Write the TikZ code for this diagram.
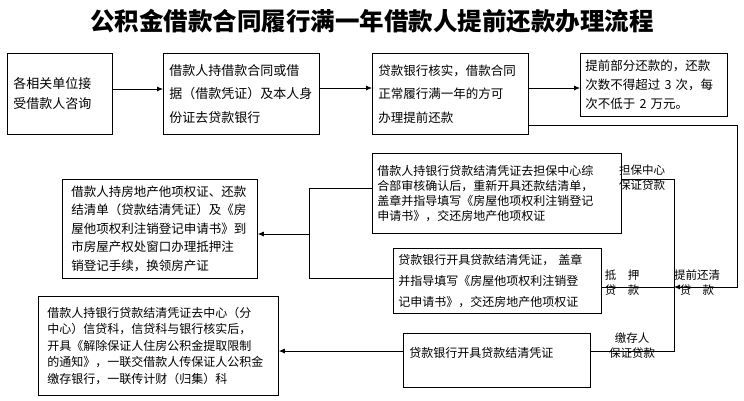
\documentclass[tikz,border=0pt]{standalone}
\usepackage{fontspec}
\setmainfont{Noto Sans CJK SC}
\newfontfamily\cjk{Noto Sans CJK SC}
\usetikzlibrary{arrows.meta}
\tikzset{
  box/.style={draw=black, line width=0.8pt, anchor=north west, align=left, inner ysep=0pt, text=black},
  lbl/.style={align=center, inner sep=0pt, font={\cjk\fontsize{11.5}{15}\selectfont}},
  conn/.style={draw=black, line width=0.8pt},
  arr/.style={conn, -{Latex[length=6pt,width=5pt]}},
}
\begin{document}
\begin{tikzpicture}[x=1pt,y=-1pt]
\useasboundingbox (0,0) rectangle (744,400);
\node[font={\cjk\bfseries\fontsize{24.5}{28}\selectfont}] (title) at (372,21) {公积金借款合同履行满一年借款人提前还款办理流程};
% top row
\node[box, minimum height=81pt, text width=93pt, inner xsep=6pt, font={\cjk\fontsize{13}{20}\selectfont}] (A) at (7,53) {各相关单位接\\受借款人咨询};
\node[box, minimum height=81pt, text width=144pt, inner xsep=6pt, font={\cjk\fontsize{13}{23.5}\selectfont}] (B) at (163,53) {借款人持借款合同或借\\据（借款凭证）及本人身\\份证去贷款银行};
\node[box, minimum height=81pt, text width=144pt, inner xsep=6pt, font={\cjk\fontsize{12.5}{23.5}\selectfont}] (C) at (372,53) {贷款银行核实，借款合同\\正常履行满一年的方可\\办理提前还款};
\node[box, minimum height=63pt, text width=137pt, inner xsep=5pt, font={\cjk\fontsize{12.5}{19}\selectfont}] (D) at (580,53) {提前部分还款的，还款\\次数不得超过 3 次，每\\次不低于 2 万元。};
% middle
\node[box, minimum height=80pt, text width=239pt, inner xsep=5pt, font={\cjk\fontsize{12}{15}\selectfont}] (E) at (372,153) {借款人持银行贷款结清凭证去担保中心综\\合部审核确认后，重新开具还款结清单，\\盖章并指导填写《房屋他项权利注销登记\\申请书》，交还房地产他项权证};
\node[box, minimum height=99pt, text width=177pt, inner xsep=9pt, font={\cjk\fontsize{12.5}{18.5}\selectfont}] (H) at (62,179) {借款人持房地产他项权证、还款\\结清单（贷款结清凭证）及《房\\屋他项权利注销登记申请书》到\\市房屋产权处窗口办理抵押注\\销登记手续，换领房产证};
\node[box, minimum height=65pt, text width=198pt, inner xsep=5pt, font={\cjk\fontsize{12}{21}\selectfont}] (F) at (393,248) {贷款银行开具贷款结清凭证， 盖章\\并指导填写《房屋他项权利注销登\\记申请书》，交还房地产他项权证};
% bottom
\node[box, minimum height=99pt, text width=222pt, inner xsep=9pt, font={\cjk\fontsize{12}{16.5}\selectfont}] (I) at (38,296) {借款人持银行贷款结清凭证去中心（分\\中心）信贷科，信贷科与银行核实后，\\开具《解除保证人住房公积金提取限制\\的通知》，一联交借款人传保证人公积金\\缴存银行，一联传计财（归集）科};
\node[box, minimum height=54pt, text width=175pt, inner xsep=6pt, font={\cjk\fontsize{12}{16}\selectfont}] (G) at (403,333) {贷款银行开具贷款结清凭证\\\mbox{}};
% labels
\node[lbl] (l1) at (642,178) {担保中心\\保证贷款};
\node[lbl] (l2) at (622,283) {抵\quad 押\\贷\quad 款};
\node[lbl] (l3) at (697,283) {提前还清\\贷\quad 款};
\node[lbl] (l4) at (632,346) {缴存人\\保证贷款};
% coordinates
\coordinate (r1) at (737,125);
\coordinate (r2) at (737,287);
\coordinate (bm) at (674,287);
\coordinate (bt) at (674,179);
\coordinate (bb) at (674,351);
\coordinate (k1) at (309,188);
\coordinate (k2) at (309,278);
\coordinate (k3) at (309,234);
% connectors
\draw[arr] (A.east |- 0,89) -- (B.west |- 0,89);
\draw[arr] (B.east |- 0,88) -- (C.west |- 0,88);
\draw[arr] (C.east |- 0,88) -- (D.west |- 0,88);
\draw[arr] (C.east |- r1) -- (r1) -- (r2) -- (bm);
\draw[conn] (bm) -- (F.east |- bm);
\draw[conn] (E.east |- bt) -- (bt) -- (bb) -- (G.east |- bb);
\draw[conn] (E.west |- k1) -- (k1) -- (k2) -- (F.west |- k2);
\draw[arr] (k3) -- (H.east |- k3);
\draw[arr] (G.west |- bb) -- (I.east |- bb);
\end{tikzpicture}
\end{document}
